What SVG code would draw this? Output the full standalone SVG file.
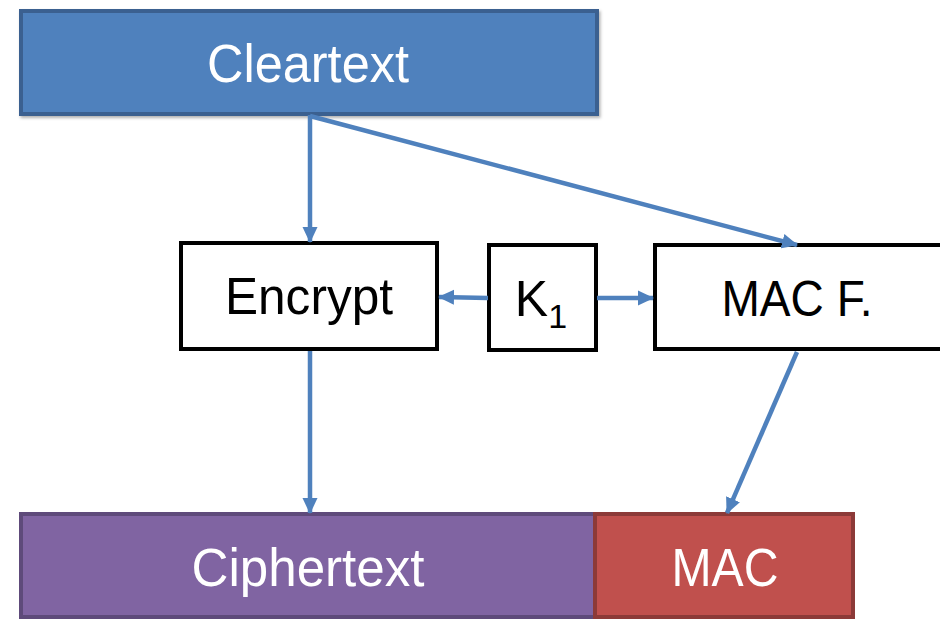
<svg xmlns="http://www.w3.org/2000/svg" width="940" height="619" viewBox="0 0 940 619">
<defs>
<marker id="ah" markerUnits="userSpaceOnUse" markerWidth="17" markerHeight="17" refX="15" refY="8.5" orient="auto">
<path d="M0,1 L16,8.5 L0,16 Z" fill="#4F81BD"/>
</marker>
<filter id="sh" x="-5%" y="-5%" width="110%" height="115%">
<feDropShadow dx="1.5" dy="2" stdDeviation="1.5" flood-color="#000" flood-opacity="0.3"/>
</filter>
</defs>
<style>
.lbl{font-family:"Liberation Sans",Arial,sans-serif;text-anchor:middle}
.w{fill:#fff}
.k{fill:#000}
.box{fill:#fff;stroke:#000;stroke-width:4}
.con{stroke:#4F81BD;stroke-width:4.5;fill:none;marker-end:url(#ah)}
</style>
<g id="cleartext">
<rect x="21" y="11" width="576" height="103" fill="#4F81BD" stroke="#3B6090" stroke-width="4" filter="url(#sh)"/>
<text class="lbl w" x="308" y="82" font-size="54" textLength="202" lengthAdjust="spacingAndGlyphs">Cleartext</text>
</g>
<g id="encrypt">
<rect class="box" x="181" y="243" width="256" height="106"/>
<text class="lbl k" x="309" y="314" font-size="52" textLength="168" lengthAdjust="spacingAndGlyphs">Encrypt</text>
</g>
<g id="k1">
<rect class="box" x="489" y="245" width="107" height="105"/>
<text class="lbl k" x="541" y="316" font-size="50">K<tspan font-size="34" dy="12">1</tspan></text>
</g>
<g id="macf">
<rect class="box" x="655" y="245" width="300" height="104"/>
<text class="lbl k" x="797" y="316" font-size="50" textLength="151" lengthAdjust="spacingAndGlyphs">MAC F.</text>
</g>
<g id="ciphertext">
<rect x="21" y="514" width="574" height="103" fill="#8064A2" stroke="#5E4A7A" stroke-width="4"/>
<text class="lbl w" x="308" y="586" font-size="54" textLength="233" lengthAdjust="spacingAndGlyphs">Ciphertext</text>
</g>
<g id="mac">
<rect x="595" y="514" width="258" height="103" fill="#C0504D" stroke="#8C3A38" stroke-width="4"/>
<text class="lbl w" x="725" y="586" font-size="54" textLength="107" lengthAdjust="spacingAndGlyphs">MAC</text>
</g>
<g id="connectors">
<line class="con" x1="310" y1="115" x2="310" y2="242"/>
<line class="con" x1="310" y1="116" x2="797" y2="245"/>
<line class="con" x1="488" y1="298" x2="439" y2="297"/>
<line class="con" x1="597" y1="298" x2="653" y2="298"/>
<line class="con" x1="310" y1="351" x2="310" y2="513"/>
<line class="con" x1="797" y1="352" x2="727" y2="513"/>
</g>
</svg>
